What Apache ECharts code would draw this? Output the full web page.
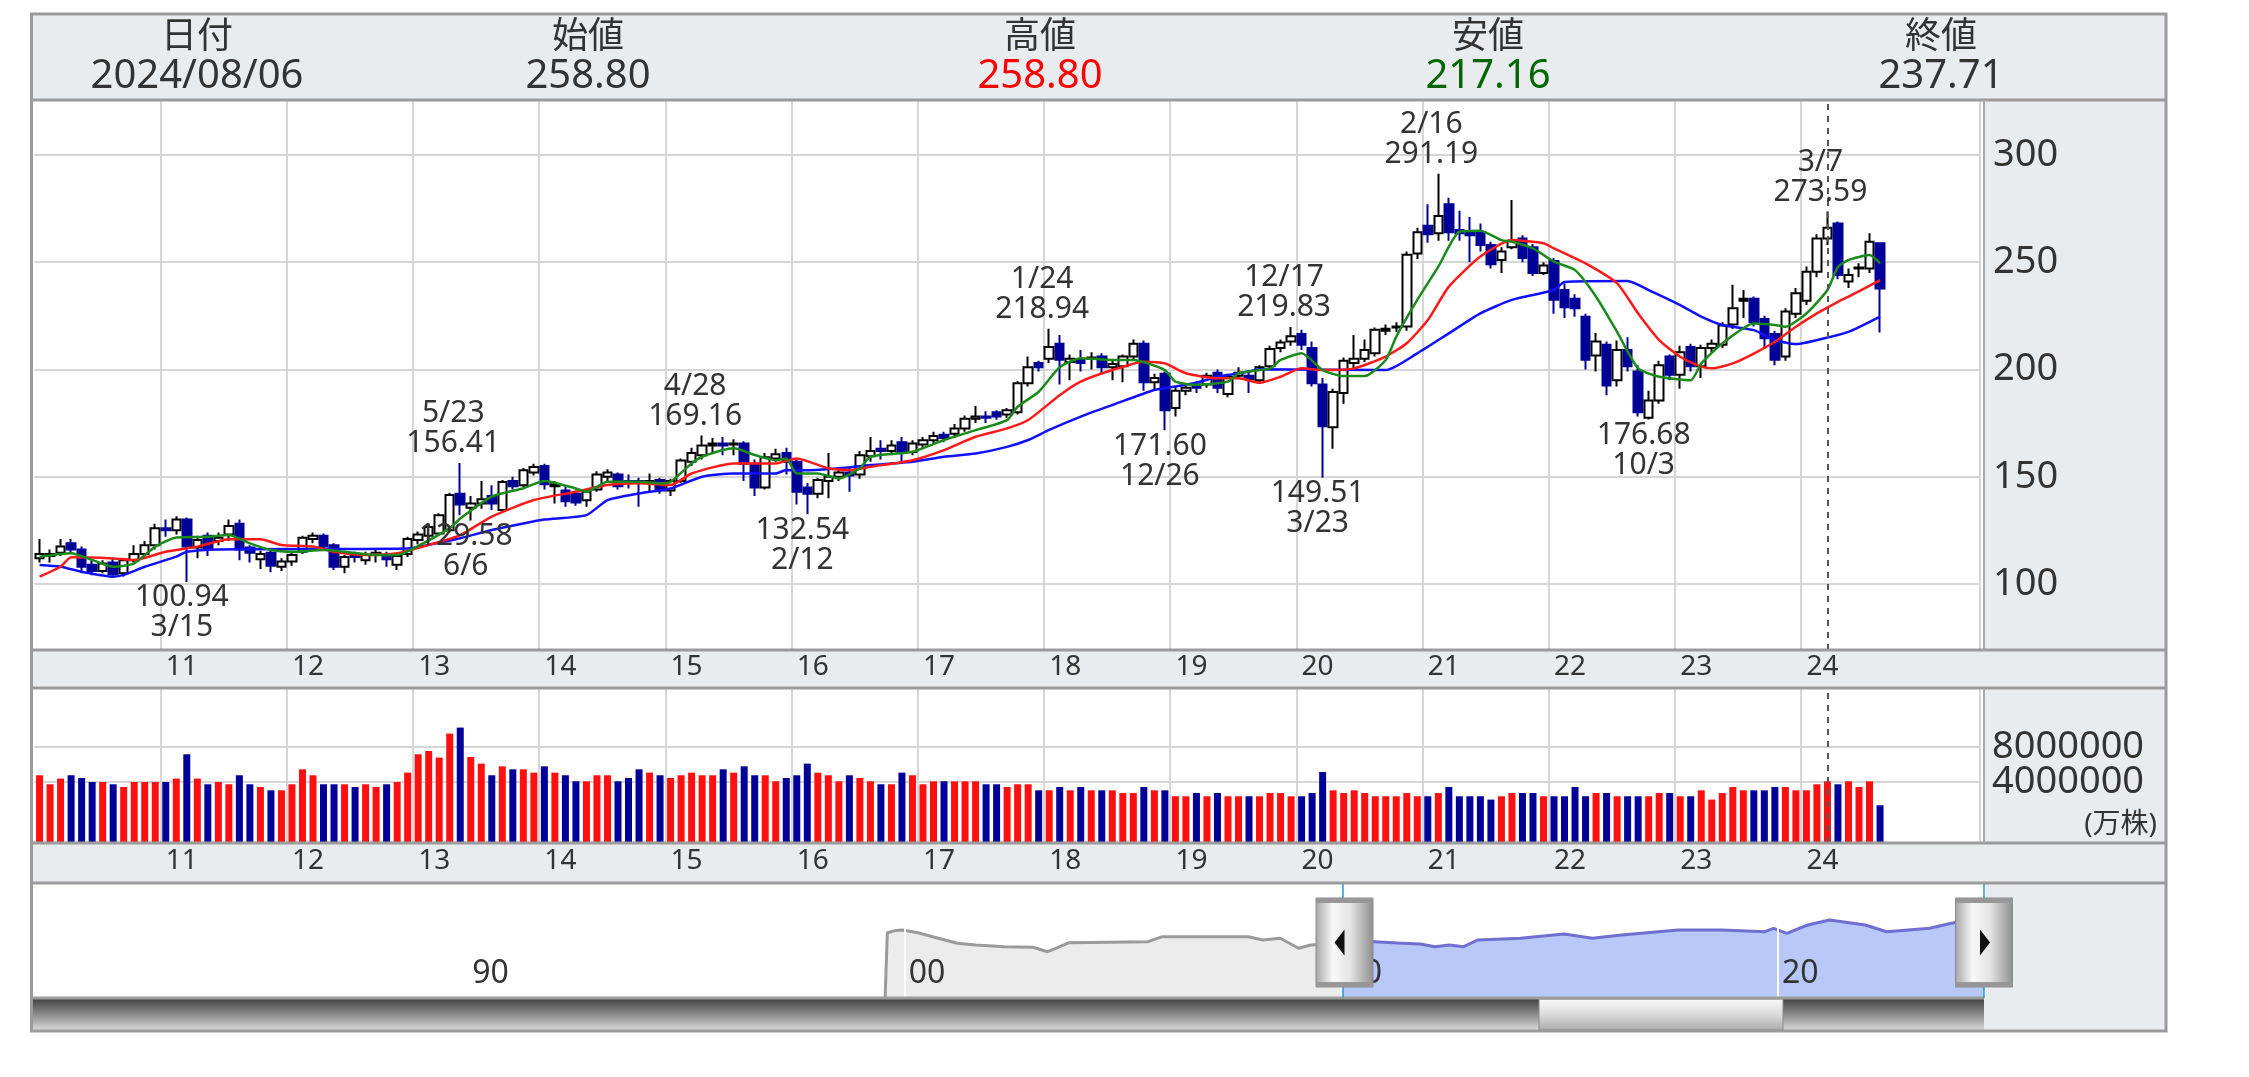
<!DOCTYPE html>
<html lang="ja">
<head>
<meta charset="utf-8">
<title>月足チャート</title>
<script src="https://cdn.jsdelivr.net/npm/echarts@6/dist/echarts.min.js"></script>
<style>
  html, body { margin: 0; padding: 0; background: #fff; }
  #chart { width: 2249px; height: 1077px; }
</style>
</head>
<body>
<div id="chart"></div>
<script>
const FONT = '"Noto Sans", "Noto Sans CJK JP", sans-serif';
const INK = "#333";
const PANEL = "#e9ecef";
const FRAME = "#9b9b9b";
const GRID_LINE = "#d6d6d6";
const UP_RED = "#ff1010";
const DOWN_NAVY = "#000099";

// month categories, 2010/01 .. 2025/05 (axis runs past the last candle)
const firstYear = 2010;
const monthCount = 185;
const months = [];
for (let k = 0; k < monthCount; k++) {
  const y = firstYear + Math.floor(k / 12);
  months.push(y + "/" + String((k % 12) + 1).padStart(2, "0"));
}

// monthly candles [open, close, low, high], 2010/01 .. 2024/08
const candles = [
  // 2010
  [112, 114, 110, 121], [113, 114, 110, 116], [114.5, 117.5, 113, 121], [119, 116, 114.5, 121],
  [116, 108, 105, 117.5], [109, 106, 104, 111], [106, 109.5, 105, 111], [110, 104.5, 103, 112],
  [105, 111, 103.5, 112], [111, 114, 110, 118], [114, 118, 113, 120], [118, 126, 116, 128],
  // 2011
  [126, 125, 122, 130], [125, 130, 123, 131.5], [130, 117.5, 100.94, 131], [117, 120.5, 112, 122.5],
  [122.5, 116.5, 113, 124], [120, 121.5, 118, 124], [123, 127, 120, 130], [128, 116, 111, 130],
  [117, 114.5, 110, 118], [111.5, 114, 107, 115.5], [114.5, 108.5, 105.5, 116], [108, 110.5, 106, 112],
  // 2012
  [110.5, 113.5, 108.5, 115], [115, 121.5, 114, 122.5], [121, 122.5, 119, 124], [122.5, 117.5, 115.5, 123.5],
  [118, 108, 106.5, 119], [108, 112.5, 105, 113.5], [113.5, 112.5, 110, 115], [111, 113.5, 109, 115],
  [113.5, 114.5, 110, 116], [113.5, 111.5, 108, 115], [109, 113, 106.5, 114], [114, 121, 112.5, 122],
  // 2013
  [120.5, 123, 118.5, 124.5], [122.5, 126.5, 120, 128], [123.5, 132, 122.5, 133], [125, 141.5, 124, 142.5],
  [142, 137, 132, 156.41], [135.5, 137.5, 129.58, 141], [137.5, 139.5, 135, 148], [141, 137.5, 134.5, 146],
  [134.5, 147.5, 133.5, 148.5], [148, 145.5, 144, 150], [146, 153, 145, 154], [152, 154.5, 150.5, 156],
  // 2014
  [155, 146.5, 144, 156], [145.5, 146.5, 137.5, 148], [143.5, 138.5, 136, 146], [142, 138, 136.5, 143.5],
  [139, 143, 136, 144], [144, 151, 143, 152.5], [150, 152, 148, 153.5], [151, 145.5, 144, 152],
  [148, 147, 144.5, 151], [148, 147, 136, 149.5], [147, 148, 143, 151.5], [148.5, 143.5, 142, 149.5],
  // 2015
  [143.5, 148, 141, 149], [148, 157.5, 147, 158.5], [157, 161, 155, 163.5], [160, 164.5, 158, 169.16],
  [164.5, 165.5, 161, 168], [165.5, 164.5, 160, 168.5], [165, 165.5, 160, 167.5], [165.5, 156, 148, 166.5],
  [156, 145, 141, 158], [145, 159, 144, 161], [158.5, 160.5, 157, 163], [161, 157, 151, 163.5],
  // 2016
  [157, 143, 137, 158], [145, 142, 132.54, 147], [142, 148.5, 140, 149.5], [148, 150, 140, 161],
  [150, 152, 148, 153.5], [152, 150.5, 143, 154], [151, 160, 149, 162], [159.5, 162, 157, 168.5],
  [163, 162, 158, 167], [162, 164.5, 160, 167], [166, 161.5, 156, 168.5], [161.5, 165.5, 160, 167],
  // 2017
  [165, 167, 163, 168.5], [167, 169, 165.5, 171], [169.5, 168, 166, 171], [170, 172.5, 168, 174.5],
  [172.5, 177, 171, 178.5], [177, 178, 175, 183], [178, 177.5, 175, 180.5], [180, 178, 176.5, 181],
  [179, 181, 177.5, 182], [180, 193.5, 179, 194.5], [193.5, 201, 192, 206], [203, 201, 199, 204],
  // 2018
  [205, 210.5, 203, 218.94], [212, 204.5, 193, 216], [203.5, 205, 195, 207], [204.5, 203, 199, 209],
  [205, 205.5, 200, 208], [206, 201, 198, 207.5], [201, 202.5, 195, 204], [201.5, 206, 194, 207],
  [206, 212, 204.5, 214], [212, 194, 190, 213.5], [194, 196, 190, 198], [198, 181, 171.6, 199],
  // 2019
  [182, 190, 178, 192], [190, 191.5, 188, 193], [193, 191.5, 189, 194.5], [193, 197, 191.5, 198.5],
  [198.5, 191.5, 189, 200], [188.5, 196.5, 187, 198], [197, 198.5, 195.5, 201], [197, 195.5, 189, 199],
  [195, 201, 193.5, 202], [201.5, 209.5, 200, 211], [210, 212.5, 208, 214], [213, 215.5, 211, 219.83],
  // 2020
  [216.5, 211.5, 209, 218.5], [210, 193.5, 192, 213], [193, 173.5, 149.51, 196], [173, 189.5, 163, 191],
  [189, 204, 184, 205.5], [203, 205, 200, 216], [205, 209, 203.5, 214], [207.5, 218.5, 206, 219.5],
  [218, 219, 216, 221], [219.5, 220, 217.5, 222], [220, 253.5, 218, 255], [254, 264, 251.5, 266],
  // 2021
  [267, 263, 259, 277], [263.5, 271.5, 260, 291.19], [277, 264, 260, 280], [265, 263.5, 260, 274],
  [264, 262.5, 250, 271], [264, 258, 255, 268], [258, 249, 247, 259.5], [251, 255, 245, 257],
  [257, 260, 256, 279], [261, 252, 250, 262.5], [257, 245, 243.5, 258.5], [245, 248.5, 244, 250],
  // 2022
  [250.5, 232.5, 226, 252], [237, 229, 224, 240], [233, 228.5, 224.5, 235], [224.5, 204.5, 200, 226],
  [206.5, 213, 199, 217], [211.5, 192.5, 188, 213], [195, 209, 192, 213.5], [209, 201.5, 199, 215],
  [199, 180, 178, 202], [177.5, 185.5, 176.68, 190], [185.5, 202, 184, 204], [206, 197.5, 195, 207],
  // 2023
  [197.5, 208, 191, 211], [210.5, 201.5, 199, 212], [201.5, 210, 196, 211.5], [210, 212, 208, 214],
  [211.5, 220.5, 210, 222], [221, 228.5, 219, 239.5], [232, 233, 224, 237], [233, 222, 220, 234],
  [223.5, 214.5, 210, 225], [216.5, 204.5, 202, 218], [206, 227, 204, 228.5], [226, 235.5, 224, 238],
  // 2024
  [232, 245.5, 230, 248], [245.5, 261, 243, 263], [261, 266, 258, 273.59], [268, 244, 242, 269],
  [241, 244, 238, 247], [247, 247.5, 243, 249.5], [247, 259.5, 245, 263.5], [258.8, 237.71, 217.16, 258.8]
];

// monthly volume, 2010/01 .. 2024/08
const volumes = [
  4770000, 3740000, 4390000, 4770000, 4460000, 4000000, 4000000, 3740000, 3430000, 4000000, 4000000, 4000000,
  4000000, 4390000, 7170000, 4390000, 3740000, 4000000, 3740000, 4770000, 3740000, 3430000, 3050000, 3050000,
  3740000, 5450000, 4770000, 3740000, 3740000, 3740000, 3430000, 3740000, 3430000, 3740000, 4000000, 5070000,
  7170000, 7540000, 6790000, 9530000, 10220000, 6860000, 6100000, 4770000, 5790000, 5450000, 5450000, 5070000,
  5790000, 5070000, 4770000, 4080000, 4080000, 4770000, 4770000, 4080000, 4460000, 5450000, 5070000, 4770000,
  4460000, 4770000, 5070000, 4770000, 4770000, 5450000, 5070000, 5790000, 4770000, 4770000, 4080000, 4460000,
  4770000, 6100000, 5070000, 4770000, 4080000, 4770000, 4460000, 4080000, 3740000, 3740000, 5070000, 4770000,
  3740000, 4080000, 4080000, 4080000, 4080000, 4080000, 3740000, 3740000, 3430000, 3740000, 3740000, 3050000,
  3050000, 3430000, 3050000, 3430000, 3050000, 3050000, 3050000, 2740000, 2740000, 3430000, 3050000, 3050000,
  2370000, 2370000, 2740000, 2370000, 2740000, 2370000, 2370000, 2370000, 2370000, 2740000, 2740000, 2370000,
  2370000, 2740000, 5140000, 3050000, 2740000, 3050000, 2740000, 2370000, 2370000, 2370000, 2740000, 2370000,
  2370000, 2740000, 3430000, 2370000, 2370000, 2370000, 1990000, 2370000, 2740000, 2740000, 2740000, 2370000,
  2370000, 2370000, 3430000, 2370000, 2740000, 2740000, 2370000, 2370000, 2370000, 2370000, 2740000, 2740000,
  2370000, 2370000, 3050000, 1990000, 2740000, 3430000, 3050000, 3050000, 3050000, 3430000, 3430000, 3050000,
  3050000, 3740000, 4080000, 3740000, 4080000, 3430000, 4080000, 1340000
];

// trend lines as drawn, [months since 2010/01, price]
const lineGreen = [
  [0, 112.7], [3, 114.3], [5, 111.2], [7, 108], [9, 109.6], [11, 117.4], [13, 121.7], [16, 122], [18, 122.8],
  [20, 118.9], [22, 115.8], [24, 115], [27, 115.8], [29, 115], [32, 113.5], [34, 113.5], [36, 117.7], [39, 126],
  [40, 130.5], [43, 140.7], [46, 144.6], [48, 148], [51, 144.5], [52, 143], [54, 147.6], [57, 147.6], [59, 146.9],
  [60, 147.6], [62, 156.2], [63, 159.3], [66, 163.2], [68, 160.1], [70, 157.7], [71, 158.5], [72, 151.5], [74, 151.5],
  [76, 149.2], [78, 153.9], [79, 159.3], [83, 161.6], [86, 167.1], [89, 171.7], [92, 176.4], [93, 182.6], [95, 189.6],
  [97, 201], [99, 205.2], [102, 204.4], [104, 204.4], [107, 199.7], [108, 194.3], [110, 192.8], [113, 194.3],
  [114, 198.2], [117, 200.5], [118, 204.4], [120, 207.5], [122, 199.7], [124, 196.9], [126, 196.9], [128, 204.4],
  [129, 215.3], [131, 232.4], [133, 247.9], [135, 264.2], [137, 264.7], [139, 260.3], [140, 259.5], [142, 256.4],
  [144, 250.2], [146, 246.3], [148, 233.9], [150, 217.5], [152, 200.5], [154, 196.6], [157, 195], [158, 202.8],
  [160, 212.1], [163, 221.4], [165, 220.7], [166, 219.9], [168, 226.1], [170, 237], [171, 247.8], [172, 251],
  [174, 253.3], [175, 249.4]
];
const lineRed = [
  [0, 103.4], [2, 108], [3, 112.4], [7, 111.9], [9, 111.2], [12, 115], [15, 117.4], [18, 120.8], [21, 120.8],
  [23, 118.2], [26, 117.4], [28, 115], [31, 113.5], [34, 114.3], [37, 118.2], [40, 122.8], [43, 131.4], [47, 139.1],
  [51, 143], [54, 146.1], [57, 146.9], [60, 146.1], [62, 151.5], [66, 156.2], [70, 156.2], [72, 158.5], [75, 153.9],
  [77, 153.1], [79, 154.6], [83, 157.7], [86, 162.4], [89, 168.6], [92, 172.5], [94, 176.4], [97, 188], [99, 194.3],
  [102, 199.7], [105, 203.6], [107, 202.8], [109, 198.2], [112, 195.9], [114, 195.9], [116, 193.8], [118, 196.6],
  [120, 200.5], [122, 199.7], [125, 200.5], [128, 206], [130, 212.2], [132, 223], [134, 238.6], [137, 252.6],
  [140, 260.3], [143, 258.8], [144, 256.4], [147, 249.4], [150, 240.1], [152, 226.1], [154, 213.7], [156, 205.9],
  [158, 201.3], [159, 200.5], [161, 202.8], [163, 207.4], [165, 212.9], [167, 219.9], [169, 226.1], [171, 231.5],
  [172, 233.9], [175, 241.6]
];
const lineBlue = [
  [0, 108.8], [2, 108], [4, 105.7], [7, 103.4], [8, 104.2], [10, 108], [13, 112.7], [14, 115], [17, 116.1],
  [35, 116.5], [37, 118.2], [40, 121.3], [43, 125.1], [46, 128.2], [48, 130], [52, 132.1], [54, 139.1], [57, 142.2],
  [60, 144.5], [63, 150], [66, 151.5], [70, 151.5], [71, 153.1], [73, 153], [76, 153.9], [79, 155.4], [83, 157],
  [86, 159.3], [89, 160.8], [92, 163.9], [94, 167.1], [96, 171.8], [99, 178], [102, 183.4], [106, 190.4], [108, 192],
  [110, 193.8], [112, 196.6], [115, 199], [116, 200.1], [128, 199.7], [131, 207.5], [134, 216.8], [137, 226.1],
  [140, 232.4], [144, 237], [145, 240.8], [151, 241.2], [153, 237], [156, 230], [158, 224.6], [160, 220.7],
  [163, 218.3], [165, 213.7], [167, 211.8], [169, 213.7], [172, 217.5], [175, 224.6]
];

// annotated highs and lows: [month, price, date]
const highMarks = [
  ["2013/05", 156.41, "5/23"], ["2015/04", 169.16, "4/28"], ["2018/01", 218.94, "1/24"],
  ["2019/12", 219.83, "12/17"], ["2021/02", 291.19, "2/16"], ["2024/03", 273.59, "3/7"]
];
const lowMarks = [
  ["2011/03", 100.94, "3/15"], ["2013/06", 129.58, "6/6"], ["2016/02", 132.54, "2/12"],
  ["2018/12", 171.6, "12/26"], ["2020/03", 149.51, "3/23"], ["2022/10", 176.68, "10/3"]
];
const peakMonth = "2024/03";

const priceMin = 69.2, priceMax = 325.6;
const volMin = -2971000, volMax = 14743000;
const volTicks = [4000000, 8000000];

// long-range overview line: [year, value]
const overviewPast = [
  [1999.55, -240], [1999.6, 175], [1999.8, 190], [1999.95, 192.5], [2000.3, 175], [2000.64, 149.7],
  [2001.2, 108], [2001.62, 96.7], [2002.28, 85.8], [2002.94, 82], [2003.27, 53.9], [2003.5, 80],
  [2003.76, 111.4], [2005.57, 117.8], [2005.9, 149.7], [2007.87, 149.7], [2008.2, 128.6], [2008.6, 139.5],
  [2009.02, 75.6], [2009.3, 96.7], [2010, 110]
];
const overviewRecent = [
  [2010, 110], [2010.4, 117.8], [2010.76, 117.8], [2011.3, 110], [2011.81, 103], [2012.14, 85.8],
  [2012.47, 96.7], [2012.8, 85.8], [2013.12, 128.6], [2014.1, 139.5], [2015.1, 167], [2015.75, 139.5],
  [2016.41, 160.6], [2017.72, 192.5], [2018.71, 192.5], [2019.7, 181.6], [2019.9, 203.4], [2020.2, 171.4],
  [2020.68, 224.4], [2021.18, 256.4], [2022.0, 224.4], [2022.49, 181.6], [2022.98, 192.5], [2023.47, 203.4],
  [2023.97, 235.3], [2024.3, 250], [2024.74, 235]
];

const headerLabels = ["日付", "始値", "高値", "安値", "終値"];
const headerValues = ["2024/08/06", "258.80", "258.80", "217.16", "237.71"];
const headerColors = [INK, INK, "#ff0000", "#006600", INK];
const headerCenters = [197, 588, 1040, 1488, 1941];

// layout
const L = 31.5, R = 2166, COL = 1984;
const plotLeft = 34.3;
const plotWidth = monthCount * 10.517;

// year boundaries only where there are candles
function isYearStart(i) {
  return i > 0 && i % 12 === 0 && i < candles.length;
}

function hline(y, x1, x2, w, color) {
  return { type: "line", z: 50, silent: true, shape: { x1, y1: y, x2, y2: y },
    style: { stroke: color || FRAME, lineWidth: w || 3 } };
}
function vline(x, y1, y2, w, color) {
  return { type: "line", z: 50, silent: true, shape: { x1: x, y1, x2: x, y2 },
    style: { stroke: color || FRAME, lineWidth: w || 2 } };
}
function rect(x, y, width, height, fill, z) {
  return { type: "rect", z, silent: true, shape: { x, y, width, height }, style: { fill } };
}
function text(str, x, y, size, color, align) {
  return { type: "text", z: 50, silent: true,
    style: { text: str, x, y, fill: color, fontSize: size, fontFamily: FONT,
      align: align || "center", textAlign: align || "center",
      verticalAlign: "middle", textVerticalAlign: "middle" } };
}
function grad(x2, y2, stops) {
  return { type: "linear", x: 0, y: 0, x2, y2,
    colorStops: stops.map(([offset, color]) => ({ offset, color })) };
}
function handle(cx, pointLeft) {
  const w = 57, top = 898, h = 89, mid = top + h / 2;
  const x = cx - w / 2;
  const tri = pointLeft
    ? [[cx - 10, mid], [cx, mid - 13], [cx, mid + 13]]
    : [[cx + 6, mid], [cx - 4, mid - 13], [cx - 4, mid + 13]];
  return [
    { type: "rect", z: 60, silent: true, shape: { x, y: top, width: w, height: h },
      style: { fill: grad(1, 0, [[0, "#a4a4a4"], [0.3, "#f8f8f8"], [0.6, "#e4e4e4"], [1, "#8e8e8e"]]),
        stroke: "#8a8a8a", lineWidth: 1 } },
    rect(x, top, w, 5, "#979797", 61),
    rect(x, top + h - 5, w, 5, "#979797", 61),
    { type: "polygon", z: 62, silent: true, shape: { points: tri }, style: { fill: "#111" } }
  ];
}

const graphics = [
  // panel backgrounds
  rect(L, 14, R - L, 1017, PANEL, -10),
  rect(L, 100, COL - L, 550, "#fff", -9),
  rect(L, 688, COL - L, 155, "#fff", -9),
  rect(L, 883, COL - L, 115, "#fff", -9),
  // scrollbar
  { type: "rect", z: 40, silent: true, shape: { x: L, y: 998, width: COL - L, height: 33 },
    style: { fill: grad(0, 1, [[0, "#3e3e3e"], [0.5, "#8c8c8c"], [1, "#dedede"]]) } },
  { type: "rect", z: 41, silent: true, shape: { x: 1539, y: 999, width: 244, height: 31 },
    style: { fill: grad(0, 1, [[0, "#fbfbfb"], [0.5, "#dadada"], [1, "#ababab"]]), stroke: "#8a8a8a", lineWidth: 1 } },
  // frame
  { type: "rect", z: 55, silent: true, shape: { x: L, y: 14, width: R - L, height: 1017 },
    style: { fill: "none", stroke: FRAME, lineWidth: 3 } },
  hline(100, L, R), hline(650, L, R), hline(688, L, R), hline(843, L, R), hline(883, L, R),
  hline(998, L, COL, 3),
  vline(COL, 100, 650, 2, "#a8a8a8"), vline(COL, 688, 843, 2, "#a8a8a8"),
  // range markers in the overview
  vline(1343, 884, 998, 1.5, "#1e9bd7"), vline(COL, 884, 998, 1.5, "#1e9bd7"),
  ...handle(1344.5, true),
  ...handle(1984, false),
  text("(万株)", 2157, 825, 28, INK, "right")
];
headerLabels.forEach((label, k) => {
  graphics.push(text(label, headerCenters[k], 38, 36, INK));
  graphics.push(text(headerValues[k], headerCenters[k], 77, 40, headerColors[k]));
});

const monthAxis = (gridIndex, margin) => ({
  gridIndex,
  type: "category",
  data: months,
  boundaryGap: true,
  axisLine: { show: false },
  axisTick: { show: false },
  axisLabel: {
    interval: isYearStart,
    formatter: (v) => v.slice(2, 4),
    align: "left",
    margin,
    hideOverlap: false,
    color: INK,
    fontSize: 28,
    fontFamily: FONT
  },
  splitLine: { show: true, interval: isYearStart, lineStyle: { color: GRID_LINE, width: 2 } }
});

const maSeries = (data, color) => ({
  type: "line",
  xAxisIndex: 0,
  yAxisIndex: 0,
  data,
  symbol: "none",
  smooth: 0.2,
  silent: true,
  z: 4,
  lineStyle: { color, width: 2.5 }
});

const markLabel = { color: INK, fontFamily: FONT, fontSize: 30, lineHeight: 30 };
const peakLine = { xAxis: peakMonth, label: { show: false } };

// volume scale labels sit at the end of their (transparent) reference lines
const volTickLines = volTicks.map((v) => ({
  yAxis: v,
  lineStyle: { color: "rgba(0,0,0,0)", type: "solid", width: 1 },
  label: {
    show: true,
    position: "end",
    distance: 12,
    formatter: String(v),
    color: INK,
    fontSize: 38,
    fontFamily: FONT
  }
}));

const option = {
  animation: false,
  backgroundColor: "#fff",
  textStyle: { fontFamily: FONT },
  graphic: graphics,
  grid: [
    { left: plotLeft, top: 100, width: plotWidth, height: 550, containLabel: false, outerBoundsMode: "none" },
    { left: plotLeft, top: 688, width: plotWidth, height: 155, containLabel: false, outerBoundsMode: "none" },
    { left: L, top: 885, width: COL - L + 1, height: 112.7, containLabel: false, outerBoundsMode: "none" }
  ],
  xAxis: [
    monthAxis(0, 3),
    monthAxis(1, 4),
    {
      gridIndex: 2,
      type: "value",
      min: 1980,
      max: 2024.74,
      interval: 10,
      z: 3,
      axisLine: { show: false },
      axisTick: { show: false },
      axisLabel: {
        inside: true,
        showMinLabel: false,
        showMaxLabel: false,
        formatter: (v) => String(v).slice(2),
        align: "left",
        padding: [0, 0, 0, 4],
        margin: 8,
        color: INK,
        fontSize: 32,
        fontFamily: FONT
      },
      splitLine: { show: true, lineStyle: { color: "#fff", width: 2 } }
    }
  ],
  yAxis: [
    {
      gridIndex: 0,
      type: "value",
      position: "right",
      min: priceMin,
      max: priceMax,
      minInterval: 50,
      maxInterval: 50,
      axisLine: { show: false },
      axisTick: { show: false },
      axisLabel: { showMinLabel: false, showMaxLabel: false, margin: 13, color: INK, fontSize: 38, fontFamily: FONT },
      splitLine: { lineStyle: { color: GRID_LINE, width: 2 } }
    },
    {
      gridIndex: 1,
      type: "value",
      position: "right",
      min: volMin,
      max: volMax,
      startValue: volMin,
      axisLine: { show: false },
      axisTick: { show: false, customValues: volTicks },
      axisLabel: { show: false, customValues: volTicks },
      splitLine: { lineStyle: { color: GRID_LINE, width: 2 } }
    },
    { gridIndex: 2, type: "value", min: -240, max: 480, show: false }
  ],
  series: [
    {
      type: "candlestick",
      xAxisIndex: 0,
      yAxisIndex: 0,
      data: candles,
      barWidth: 9,
      z: 3,
      itemStyle: {
        color: "#fff",
        color0: DOWN_NAVY,
        borderColor: "#000",
        borderColor0: DOWN_NAVY,
        borderWidth: 2
      },
      markLine: {
        silent: true,
        symbol: ["none", "none"],
        label: { show: false },
        lineStyle: { color: "#555", type: [6, 6], width: 2 },
        data: [peakLine]
      },
      markPoint: {
        silent: true,
        symbol: "circle",
        symbolSize: 0,
        label: markLabel,
        data: [
          ...highMarks.map(([m, v, d]) => ({
            coord: [m, v],
            label: { ...markLabel, position: "top", distance: 4, offset: [-7, 0], formatter: d + "\n" + v.toFixed(2) }
          })),
          ...lowMarks.map(([m, v, d]) => ({
            coord: [m, v],
            label: { ...markLabel, position: "bottom", distance: 1, offset: [-5, 0], formatter: v.toFixed(2) + "\n" + d }
          }))
        ]
      }
    },
    maSeries(lineBlue, "#1010ff"),
    maSeries(lineRed, "#ff1a1a"),
    maSeries(lineGreen, "#1a8a1a"),
    {
      type: "bar",
      xAxisIndex: 1,
      yAxisIndex: 1,
      data: volumes,
      barWidth: 7,
      silent: true,
      itemStyle: {
        color: (p) => (candles[p.dataIndex][1] >= candles[p.dataIndex][0] ? UP_RED : DOWN_NAVY)
      },
      markLine: {
        silent: true,
        symbol: ["none", "none"],
        label: { show: false },
        lineStyle: { color: "#555", type: [6, 6], width: 2 },
        data: [peakLine, ...volTickLines]
      }
    },
    {
      type: "line",
      xAxisIndex: 2,
      yAxisIndex: 2,
      data: overviewPast,
      symbol: "none",
      silent: true,
      z: 1,
      lineStyle: { color: "#9a9a9a", width: 3 },
      areaStyle: { color: "#ececec", origin: "start", opacity: 1 }
    },
    {
      type: "line",
      xAxisIndex: 2,
      yAxisIndex: 2,
      data: overviewRecent,
      symbol: "none",
      silent: true,
      z: 1,
      lineStyle: { color: "#6f6fd0", width: 3 },
      areaStyle: { color: "#b8c8f8", origin: "start", opacity: 1 }
    }
  ]
};

const chart = echarts.init(document.getElementById("chart"), null, { renderer: "canvas" });
chart.setOption(option);
</script>
</body>
</html>
